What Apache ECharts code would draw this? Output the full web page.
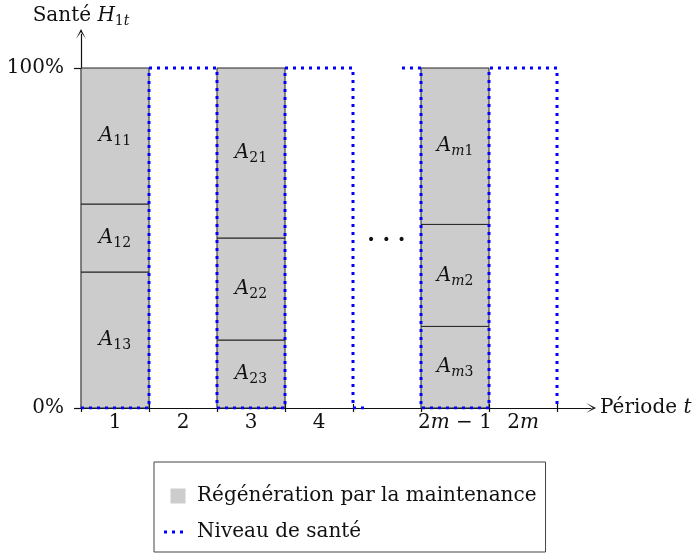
<!DOCTYPE html>
<html><head><meta charset="utf-8">
<script src="https://cdn.jsdelivr.net/npm/echarts@6/dist/echarts.min.js"></script>
<style>html,body{margin:0;padding:0;background:#fff}#c{width:697px;height:554px}</style>
</head><body><div id="c"></div>
<script>
// ---- data ----
const periodCenters = [0.5, 1.5, 2.5, 3.5, 5.5, 6.5];
const periodLabels = ['1', '2', '3', '4', '2m − 1', '2m'];
const tickPositions = [0, 1, 2, 3, 4, 5, 6, 7];
const yTickValues = [0, 100];
// maintenance columns: [start, end] on the period axis
const maintColumns = [[0, 1], [2, 3], [5, 6]];
// segment boundaries (health %) per column, bottom to top
const segBounds1 = [0, 40, 60, 100];
const segBounds2 = [0, 20, 50, 100];
const segBoundsM = [0, 24, 54, 100];
// segment subscripts (bottom to top)
const segSubs1 = ['13', '12', '11'];
const segSubs2 = ['23', '22', '21'];
const segSubsM = ['m3', 'm2', 'm1'];
// health level path (period, %)
const healthX = [0, 1, 1, 2, 2, 3, 3, 4, 4, 4.22, 4.5, 4.72, 5, 5, 6, 6, 7, 7];
const healthY = [0, 0, 100, 100, 0, 0, 100, 100, 0, 0, null, 100, 100, 0, 0, 100, 100, 0];
const ellipsisPos = [4.49, 49];

// ---- build ----
const FONT = 'DejaVu Serif';
const allBounds = [segBounds1, segBounds2, segBoundsM];
const allSubs = [segSubs1, segSubs2, segSubsM];
const segData = [], segLabels = [];
maintColumns.forEach((col, ci) => {
  const b = allBounds[ci];
  for (let k = 0; k < b.length - 1; k++) {
    segData.push([col[0], col[1], b[k], b[k + 1]]);
    segLabels.push(allSubs[ci][k]);
  }
});
const healthData = healthX.map((x, i) => [x, healthY[i]]);

function subRich(sub) {
  let s = '{a|A}';
  for (const ch of sub) s += /[0-9]/.test(ch) ? '{s|' + ch + '}' : '{si|' + ch + '}';
  return s;
}
const richText = {
  a: { fontFamily: FONT, fontSize: 20, fontStyle: 'italic', fill: '#111' },
  s: { fontFamily: FONT, fontSize: 14, fill: '#111', padding: [11, 0, 0, 0] },
  si: { fontFamily: FONT, fontSize: 14, fontStyle: 'italic', fill: '#111', padding: [11, 0, 0, 0] }
};
const richAxis = {
  r: { fontFamily: FONT, fontSize: 20, color: '#111' },
  i: { fontFamily: FONT, fontSize: 20, fontStyle: 'italic', color: '#111' },
  s: { fontFamily: FONT, fontSize: 14, color: '#111', padding: [11, 0, 0, 0] },
  si: { fontFamily: FONT, fontSize: 14, fontStyle: 'italic', color: '#111', padding: [11, 0, 0, 0] }
};
function labelRich(t) {
  let out = '';
  for (const ch of t) out += (ch === 'm' ? '{i|' : '{r|') + ch + '}';
  return out;
}

const ARROW = 'path://M0,10 L5,0 L10,10 L5,3 Z';
const chart = echarts.init(document.getElementById('c'), null, { renderer: 'canvas' });
const axisCommon = { min: 0, max: 7.5, type: 'value', splitLine: { show: false } };
chart.setOption({
  animation: false,
  backgroundColor: '#fff',
  grid: { left: 81, right: 106, top: 34, bottom: 146 },
  xAxis: [
    Object.assign({}, axisCommon, {
      position: 'bottom',
      name: '{r|Période }{i|t}',
      nameLocation: 'end', nameGap: 9,
      nameTextStyle: { rich: richAxis, fontFamily: FONT, fontSize: 20, color: '#111' },
      axisLine: { show: true, lineStyle: { color: '#111', width: 1.2 }, symbol: ['none', ARROW], symbolSize: [10, 10] },
      axisTick: { show: true, length: 4, customValues: tickPositions, lineStyle: { color: '#111', width: 1.2 } },
      axisLabel: {
        show: true, margin: 5, customValues: periodCenters,
        formatter: v => { const i = periodCenters.indexOf(v); return i >= 0 ? labelRich(periodLabels[i]) : ''; },
        rich: richAxis, fontFamily: FONT, fontSize: 20, color: '#111'
      }
    }),
    Object.assign({}, axisCommon, {
      position: 'bottom',
      axisLine: { show: false },
      axisTick: { show: true, inside: true, length: 4, customValues: tickPositions, lineStyle: { color: '#111', width: 1.2 } },
      axisLabel: { show: false }
    })
  ],
  yAxis: {
    type: 'value', min: 0, max: 110,
    splitLine: { show: false },
    name: '{r|Santé }{i|H}{s|1}{si|t}',
    nameLocation: 'end', nameGap: 6,
    nameTextStyle: { rich: richAxis, fontFamily: FONT, fontSize: 20, color: '#111' },
    axisLine: { show: true, lineStyle: { color: '#111', width: 1.2 }, symbol: ['none', ARROW], symbolSize: [10, 10] },
    axisTick: { show: true, length: 7, customValues: yTickValues, lineStyle: { color: '#111', width: 1.2 } },
    axisLabel: { show: true, margin: 17, customValues: yTickValues, formatter: v => v + '%', fontFamily: FONT, fontSize: 20, color: '#111' }
  },
  legend: {
    orient: 'vertical', left: 154, top: 462,
    padding: [24, 9, 10, 10],
    borderColor: '#444', borderWidth: 1,
    itemWidth: 28, itemHeight: 15, itemGap: 16,
    textStyle: { fontFamily: FONT, fontSize: 20, color: '#111' },
    data: [
      { name: 'Régénération par la maintenance', icon: 'path://M0,0L10,0L10,10L0,10Z', itemStyle: { color: '#cccccc', borderWidth: 0 } },
      { name: 'Niveau de santé', icon: 'path://M0,0h3v3h-3z M8,0h3v3h-3z M16,0h3v3h-3z M28,1.5L28,1.5', itemStyle: { color: '#0000ff', borderWidth: 0 } }
    ]
  },
  series: [
    {
      name: 'Régénération par la maintenance',
      type: 'custom',
      xAxisIndex: 0,
      itemStyle: { color: '#cccccc' },
      encode: { x: [0, 1], y: [2, 3] },
      data: segData,
      z: 2,
      renderItem: (params, api) => {
        const x0 = api.value(0), x1 = api.value(1), y0 = api.value(2), y1 = api.value(3);
        const p0 = api.coord([x0, y1]);
        const p1 = api.coord([x1, y0]);
        return {
          type: 'group',
          children: [
            { type: 'rect', shape: { x: p0[0], y: p0[1], width: p1[0] - p0[0], height: p1[1] - p0[1] },
              style: { fill: '#cccccc', stroke: '#222', lineWidth: 1 } },
            { type: 'text', x: (p0[0] + p1[0]) / 2, y: (p0[1] + p1[1]) / 2,
              style: { text: subRich(segLabels[params.dataIndex]), rich: richText, align: 'center', verticalAlign: 'middle',
                       fontFamily: FONT, fontSize: 20, fill: '#111' } }
          ]
        };
      }
    },
    {
      name: 'Niveau de santé',
      type: 'line',
      xAxisIndex: 0,
      data: healthData,
      showSymbol: false,
      symbol: 'none',
      connectNulls: false,
      z: 5,
      itemStyle: { color: '#0000ff' },
      lineStyle: { color: '#0000ff', width: 3, type: [3, 5], cap: 'butt' },
      markPoint: {
        symbol: 'circle', symbolSize: 0,
        label: { show: true, position: 'inside', formatter: '· · ·', fontFamily: FONT, fontSize: 22, fontWeight: 'bold', color: '#111' },
        data: [{ coord: ellipsisPos, value: 0 }]
      }
    }
  ]
});
</script>
</body></html>
